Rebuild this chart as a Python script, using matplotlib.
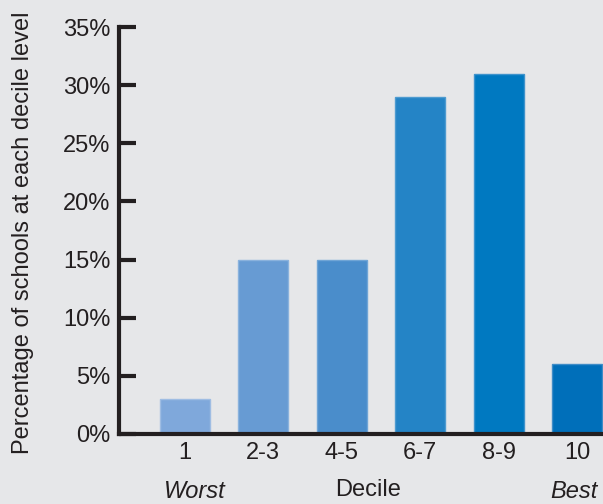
import matplotlib.pyplot as plt

# Data
deciles = ["1", "2-3", "4-5", "6-7", "8-9", "10"]
percent = [3, 15, 15, 29, 31, 6]
bar_colors = ["#7fa8db", "#679bd3", "#4a8dcb", "#2484c6", "#0079c1", "#006fba"]
edge_colors = ["#9fbde3", "#8ab2dd", "#70a5d6", "#4e9bd0", "#3f93cc", "#3f8cc7"]
yticks = [0, 5, 10, 15, 20, 25, 30, 35]

plt.rcParams['font.family'] = ['Liberation Sans', 'DejaVu Sans']
bg = "#e6e7e9"
fs = 17

fig = plt.figure(figsize=(6.03, 5.04), dpi=100, facecolor=bg)
ax = fig.add_axes([119 / 603, 1 - 434 / 504, 1 - 119 / 603, (434 - 27) / 504])
ax.set_facecolor(bg)

x = range(len(deciles))
ax.bar(x, percent, width=0.64, color=bar_colors, edgecolor=edge_colors, linewidth=1, zorder=2)

ax.set_xlim(-0.84, 5.33)
ax.set_ylim(0, 35)
ax.set_yticks(yticks)
ax.set_yticklabels([f"{t}%" for t in yticks], fontsize=fs, color="#231f20")
ax.set_xticks(list(x))
ax.set_xticklabels(deciles, fontsize=fs, color="#231f20")

ax.tick_params(axis="y", direction="in", length=12, width=3, color="#231f20", pad=6)
ax.tick_params(axis="x", length=0, pad=6)

for s in ["top", "right"]:
    ax.spines[s].set_visible(False)
for s in ["left", "bottom"]:
    ax.spines[s].set_linewidth(3)
    ax.spines[s].set_color("#231f20")
    ax.spines[s].set_zorder(3)

ax.set_ylabel("Percentage of schools at each decile level", fontsize=fs, color="#231f20")
ax.yaxis.set_label_coords(-0.176, 0.494)

fig.text(368 / 603, 1 - 490 / 504, "Decile", fontsize=fs, color="#231f20", ha="center", va="center")
fig.text(195 / 603, 1 - 492 / 504, "Worst", fontsize=fs, style="italic", color="#231f20", ha="center", va="center")
fig.text(574 / 603, 1 - 492 / 504, "Best", fontsize=fs, style="italic", color="#231f20", ha="center", va="center")

fig.savefig("out.png", dpi=100, facecolor=bg)
